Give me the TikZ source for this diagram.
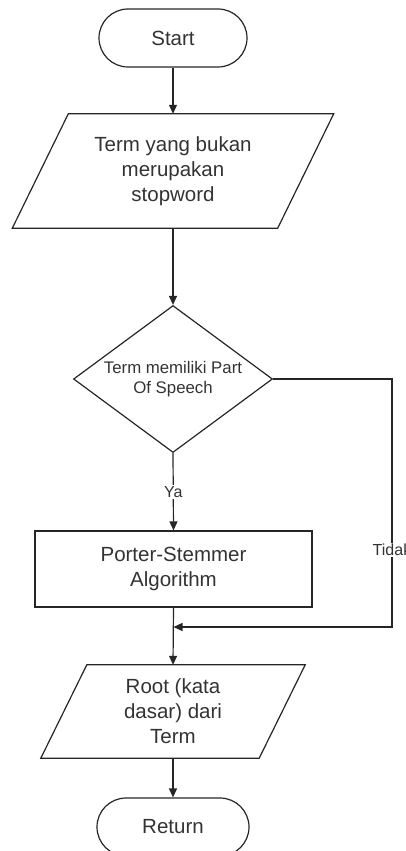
\documentclass[tikz,border=0pt]{standalone}
\usepackage{fontspec}
\setmainfont{Liberation Sans}
\usetikzlibrary{shapes.geometric,arrows.meta}

\begin{document}
\begin{tikzpicture}[x=1pt,y=-1pt,
  line/.style={draw=black!85,line width=1.2pt},
  flow/.style={line,-{Triangle[length=9pt,width=8pt]}},
  txt/.style={text=black!80,font=\fontsize{20.5}{25}\selectfont,align=center},
  terminal/.style={txt,line,rounded corners=29pt,minimum height=58pt,inner sep=0pt},
  iobox/.style={txt,inner sep=0pt},
  process/.style={txt,line,rectangle,minimum width=277pt,minimum height=76pt,inner sep=0pt},
  decision/.style={line,diamond,aspect=1.35,inner sep=0pt,minimum width=199pt,minimum height=147pt,
    text=black!80,font=\fontsize{16.8}{19.5}\selectfont,align=center},
  lbl/.style={fill=white,text=black!80,font=\fontsize{16}{19}\selectfont,inner sep=1.5pt}
]
\useasboundingbox (0,0) rectangle (406,851);

% nodes
\node[terminal,minimum width=148pt] (start) at (173,38) {Start};
\node[iobox,minimum width=265pt,minimum height=114pt] (in1) at (173,171)
  {Term yang bukan\\merupakan\\stopword};
\node[decision] (dec) at (173,379) {Term memiliki Part\\Of Speech};
\node[process] (alg) at (173.5,569) {Porter-Stemmer\\Algorithm};
\node[iobox,minimum width=218pt,minimum height=93pt] (out) at (173,711.5)
  {Root (kata\\dasar) dari\\Term};
\node[terminal,minimum width=152pt] (ret) at (173,827) {Return};

% parallelogram outlines around the data nodes
\draw[line] ([xshift=28pt]in1.north west) -- ([xshift=28pt]in1.north east)
  -- ([xshift=-28pt]in1.south east) -- ([xshift=-28pt]in1.south west) -- cycle;
\draw[line] ([xshift=23pt]out.north west) -- ([xshift=23pt]out.north east)
  -- ([xshift=-23pt]out.south east) -- ([xshift=-23pt]out.south west) -- cycle;

% bypass route and merge point
\coordinate (corner) at (392,627);
\coordinate (merge) at (alg.south |- corner);

% connectors
\draw[flow] (start) -- (in1.north);
\draw[flow] (in1.south) -- (dec.north);
\draw[flow] (dec.south) -- node[lbl,pos=0.5] {Ya} (alg.north);
\draw[flow] (alg.south) -- (out.north);
\draw[flow] (out.south) -- (ret.north);
\draw[flow] (dec.east) -| (corner) -- (merge);
\node[lbl] (tidak) at (392,550) {Tidak};
\end{tikzpicture}
\end{document}
